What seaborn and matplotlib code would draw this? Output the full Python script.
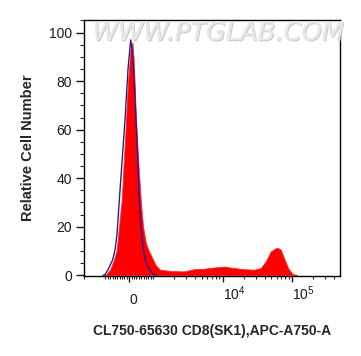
import numpy as np
import pandas as pd
import matplotlib
matplotlib.use('Agg')
import matplotlib.pyplot as plt
import matplotlib.patheffects as pe
import seaborn as sns

# CD8 sample (red, filled) - intensity vs relative count
sample_x = [-1047, -974, -806, -638, -525, -428, -315, -239, -176, -134, -50, 55,
            130, 181, 223, 286, 328, 391, 483, 580, 706, 802, 1000, 1104, 1260,
            1754, 2787, 3881, 5404, 7520, 10470, 14580, 20280, 28250, 35250,
            41600, 49100, 57900, 63100, 68400, 76200, 87100, 100300, 118300]
sample_y = [0, 0.3, 2.3, 6.4, 10.5, 20, 31, 45, 56, 64, 80, 93,
            96, 90, 80, 64, 56, 45, 31, 20, 13, 10.5, 6.4, 4, 2.3,
            1.8, 1.6, 2.5, 2.7, 3.2, 3.6, 3.0, 2.5, 2.3, 3.0,
            5.7, 9.8, 11.2, 11.2, 10.5, 7.1, 3.0, 0.6, 0]

# isotype control (blue line)
control_x = [-1082, -1014, -890, -693, -596, -512, -416, -315, -176, -50, 63,
             118, 202, 265, 328, 424, 496, 592, 706, 874, 1000, 1104]
control_y = [0, 0.3, 2.3, 6.4, 10.5, 17, 31, 45, 64, 85, 97,
             93, 82, 68, 55, 31, 20, 10.5, 5, 2, 0.6, 0]

x_major = [0, 1e4, 1e5]
x_major_labels = ['0', r'$\mathregular{10^{4}}$', r'$\mathregular{10^{5}}$']
x_minor = ([-2000] + list(range(-1000, 1001, 100)) + list(range(2000, 10000, 1000))
           + list(range(20000, 100000, 10000)) + [200000, 300000, 400000])
y_major = [0, 20, 40, 60, 80, 100]

sample = pd.DataFrame({'x': sample_x, 'y': sample_y})
control = pd.DataFrame({'x': control_x, 'y': control_y})

sns.set_theme(style='ticks')
plt.rcParams['font.family'] = ['Liberation Sans', 'DejaVu Sans']
plt.rcParams['mathtext.fontset'] = 'custom'
plt.rcParams['mathtext.rm'] = 'Liberation Sans'

fig = plt.figure(figsize=(3.61, 3.56), dpi=100)
ax = fig.add_axes([0.2327, 0.2247, 0.7091, 0.7191])
ax.set_xscale('symlog', linthresh=1000, linscale=0.308)

ax.fill_between(sample['x'], sample['y'], 0, color='#ff0000', edgecolor='#ff2a2a',
                linewidth=0.6, zorder=2)
sns.lineplot(data=control, x='x', y='y', ax=ax, color='#2b1d8f', linewidth=1.0,
             sort=False, zorder=3)

ax.set_xlim(-2030, 4.86e5)
ax.set_ylim(-0.3, 105.2)

ax.set_xticks(x_major)
ax.set_xticklabels(x_major_labels, ha='left')
ax.set_xticks(x_minor, minor=True)
ax.set_yticks(y_major)
ax.set_yticks(np.arange(0, 106, 5), minor=True)

ax.tick_params(axis='y', which='major', length=5.8, width=1, pad=2.7, labelsize=10,
               colors='#1a1a1a')
ax.tick_params(axis='y', which='minor', length=3, width=0.8)
ax.tick_params(axis='x', which='major', length=4.5, width=1, pad=1.5, labelsize=10,
               colors='#1a1a1a')
ax.tick_params(axis='x', which='minor', length=2.5, width=0.8)
ax.xaxis.get_major_ticks()[0].set_pad(7.5)

for s in ax.spines.values():
    s.set_visible(True)
    s.set_linewidth(1)
    s.set_color('black')

ax.set_xlabel('CL750-65630 CD8(SK1),APC-A750-A', fontsize=10, fontweight='bold',
              labelpad=12.5)
ax.set_ylabel('Relative Cell Number', fontsize=10.5, fontweight='bold', labelpad=10)

fig.text(0.605, 0.907, 'WWW.PTGLAB.COM', fontsize=18.5, style='italic', color='#e8e8e8',
         ha='center', va='center', family=['DejaVu Sans'],
         path_effects=[pe.withSimplePatchShadow(offset=(0.8, -0.8), shadow_rgbFace='#bdbdbd',
                                               alpha=0.8), pe.Normal()])

fig.savefig('out.png', dpi=100)
